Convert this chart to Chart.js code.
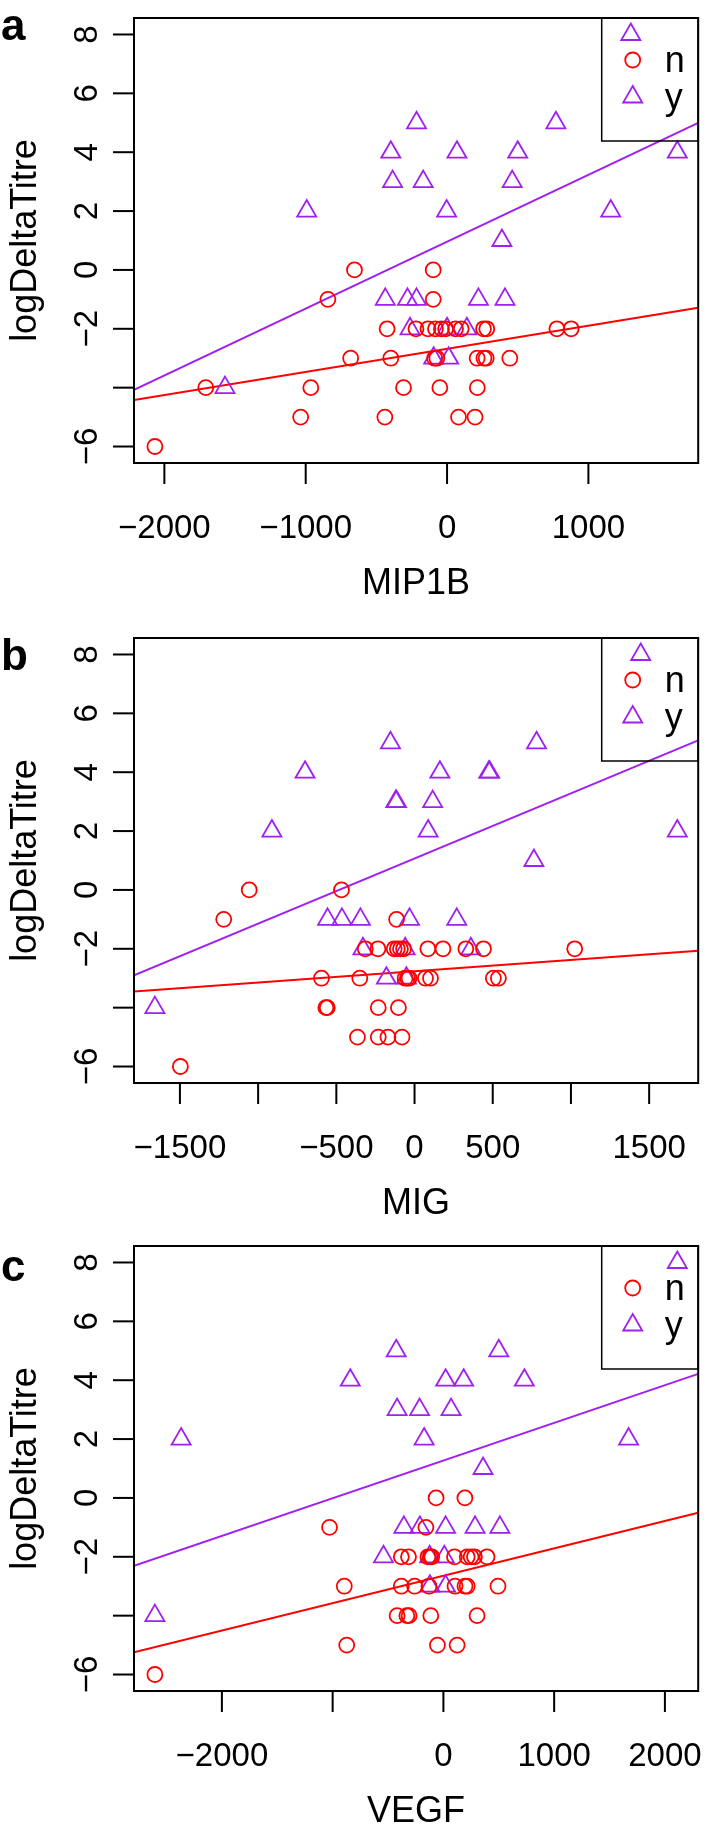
<!DOCTYPE html>
<html>
<head>
<meta charset="utf-8">
<script src="https://cdn.jsdelivr.net/npm/chart.js@4.4.1/dist/chart.umd.min.js"></script>
<style>
  html, body { margin: 0; padding: 0; background: #fff; }
  body { width: 711px; height: 1832px; position: relative; overflow: hidden; }
  .panel { position: absolute; left: 0; width: 711px; }
  canvas { display: block; }
</style>
</head>
<body>
<div class="panel" style="top:0px;height:620px"><canvas id="chartA" width="711" height="620"></canvas></div>
<div class="panel" style="top:620px;height:608px"><canvas id="chartB" width="711" height="608"></canvas></div>
<div class="panel" style="top:1228px;height:604px"><canvas id="chartC" width="711" height="604"></canvas></div>
<script>
const RED = '#FF0000';
const PURPLE = '#A020F0';
const FONT = '"Liberation Sans", Arial, Helvetica, sans-serif';

// logDeltaTitre axis, same on every panel
const yTicks = [-6, -4, -2, 0, 2, 4, 6, 8];
const yTickLabels = ['\u22126', '', '\u22122', '0', '2', '4', '6', '8'];

// panel a : MIP1B
const mipN_x = [-655, -98, -843, -98,
  -424, -220, -135, -82, -40, -10, 60, 100, 258, 281, 777, 878,
  -682, -398, -88, -72, 213, 261, 277, 444,
  -1707, -964, -308, -51, 214,
  -1036, -440, 81, 198,
  -2067];
const mipN_y = [0, 0, -1, -1,
  -2, -2, -2, -2, -2, -2, -2, -2, -2, -2, -2, -2,
  -3, -3, -3, -3, -3, -3, -3, -3,
  -4, -4, -4, -4, -4,
  -5, -5, -5, -5,
  -6];
const mipY_x = [1300, -216, 770, -398, 70, 500, 1629, -385, -169, 461, -993, -3, 1158, 388,
  -437, -280, -216, 222, 410, -262, 0, 140, -95, 12, -1571];
const mipY_y = [8, 5, 5, 4, 4, 4, 4, 3, 3, 3, 2, 2, 2, 1,
  -1, -1, -1, -1, -1, -2, -2, -2, -3, -3, -4];
const mipFitN = [-2.68, 0.000784];   // intercept, slope
const mipFitY = [0.96, 0.002273];
const mipTicks = [-2000, -1000, 0, 1000];
const mipTickLabels = ['\u22122000', '\u22121000', '0', '1000'];

// panel b : MIG
const migN_x = [-1057, -467, -1220, -115,
  -315, -234, -130, -110, -90, -70, 85, 182, 328, 441, 1024,
  -595, -350, -60, -45, -35, 70, 102, 504, 536,
  -567, -558, -232, -103,
  -365, -232, -170, -80,
  -1497];
const migN_y = [0, 0, -1, -1,
  -2, -2, -2, -2, -2, -2, -2, -2, -2, -2, -2,
  -3, -3, -3, -3, -3, -3, -3, -3, -3,
  -4, -4, -4, -4,
  -5, -5, -5, -5,
  -6];
const migY_x = [1446, -154, 780, -700, 162, 475, 480, -120, -115, 116, -912, 87, 1680, 763,
  -556, -464, -346, -32, 270, -330, -60, 360, -180, -52, -1660];
const migY_y = [8, 5, 5, 4, 4, 4, 4, 3, 3, 3, 2, 2, 2, 1,
  -1, -1, -1, -1, -1, -2, -2, -2, -3, -3, -4];
const migFitN = [-2.76, 0.000383];
const migFitY = [1.07, 0.002213];
const migTicks = [-1500, -1000, -500, 0, 500, 1000, 1500];
const migTickLabels = ['\u22121500', '', '\u2212500', '0', '500', '', '1500'];

// panel c : VEGF
const vegfN_x = [-66, 194, -1028, -158,
  -380, -315, -140, -120, -105, 100, 215, 250, 280, 394,
  -895, -380, -260, -130, 105, 195, 215, 493,
  -418, -330, -310, -114, 304,
  -873, -54, 124,
  -2605];
const vegfN_y = [0, 0, -1, -1,
  -2, -2, -2, -2, -2, -2, -2, -2, -2, -2,
  -3, -3, -3, -3, -3, -3, -3, -3,
  -4, -4, -4, -4, -4,
  -5, -5, -5,
  -6];
const vegfY_x = [2112, -426, 500, -841, 20, 183, 731, -418, -215, 69, -2368, -174, 1672, 358,
  -357, -212, 20, 286, 510, -541, -124, 8, -122, 20, -2605];
const vegfY_y = [8, 5, 5, 4, 4, 4, 4, 3, 3, 3, 2, 2, 2, 1,
  -1, -1, -1, -1, -1, -2, -2, -2, -3, -3, -4];
const vegfFitN = [-2.645, 0.000931];
const vegfFitY = [1.27, 0.00128];
const vegfTicks = [-2000, -1000, 0, 1000, 2000];
const vegfTickLabels = ['\u22122000', '', '0', '1000', '2000'];

function toPoints(xs, ys) {
  return xs.map((x, i) => ({ x: x, y: ys[i] }));
}

// R style axis range: data range stretched by 4% on each side
function rRange(values) {
  const lo = Math.min(...values), hi = Math.max(...values);
  const pad = (hi - lo) * 0.04;
  return [lo - pad, hi + pad];
}

function fitLine(fit, range) {
  return range.map(x => ({ x: x, y: fit[0] + fit[1] * x }));
}

function drawSymbol(ctx, style, radius, x, y) {
  if (Chart.helpers && Chart.helpers.drawPoint) {
    Chart.helpers.drawPoint(ctx, { pointStyle: style, radius: radius, rotation: 0, borderWidth: ctx.lineWidth }, x, y);
    return;
  }
  ctx.beginPath();
  if (style === 'circle') {
    ctx.arc(x, y, radius, 0, Math.PI * 2);
  } else {
    for (let k = 0; k < 3; k++) {
      const a = k * 2 * Math.PI / 3;
      ctx.lineTo(x + Math.sin(a) * radius, y - Math.cos(a) * radius);
    }
    ctx.closePath();
  }
  ctx.stroke();
}

// box, axes, labels and legend drawn the way base R does it
const rBasePlot = {
  id: 'rBasePlot',
  afterDatasetsDraw(chart, args, opts) {
    const { ctx, chartArea: area } = chart;
    const xs = chart.scales.x, ys = chart.scales.y;
    ctx.save();
    ctx.strokeStyle = '#000';
    ctx.fillStyle = '#000';
    ctx.lineWidth = 2;
    ctx.strokeRect(area.left, area.top, area.right - area.left, area.bottom - area.top);

    // x axis
    ctx.font = '33px ' + FONT;
    ctx.textAlign = 'center';
    ctx.textBaseline = 'alphabetic';
    opts.xTicks.forEach((v, i) => {
      const px = xs.getPixelForValue(v);
      ctx.beginPath();
      ctx.moveTo(px, area.bottom);
      ctx.lineTo(px, area.bottom + 21);
      ctx.stroke();
      if (opts.xLabels[i]) ctx.fillText(opts.xLabels[i], px, area.bottom + 75);
    });

    // y axis, labels parallel to the axis
    yTicks.forEach((v, i) => {
      const py = ys.getPixelForValue(v);
      ctx.beginPath();
      ctx.moveTo(area.left, py);
      ctx.lineTo(area.left - 21, py);
      ctx.stroke();
      if (yTickLabels[i]) {
        ctx.save();
        ctx.translate(area.left - 37, py);
        ctx.rotate(-Math.PI / 2);
        ctx.fillText(yTickLabels[i], 0, 0);
        ctx.restore();
      }
    });

    // axis titles
    ctx.font = '36px ' + FONT;
    ctx.fillText(opts.xTitle, (area.left + area.right) / 2, area.bottom + 131);
    ctx.save();
    ctx.translate(area.left - 98.5, (area.top + area.bottom) / 2);
    ctx.rotate(-Math.PI / 2);
    ctx.fillText('logDeltaTitre', 0, 0);
    ctx.restore();

    // panel letter
    ctx.font = 'bold 44px ' + FONT;
    ctx.textAlign = 'left';
    ctx.fillText(opts.letter, 1, opts.letterY);

    // legend, top right, transparent background
    const lw = 96.5, lh = 123;
    const lx = area.right - lw, ly = area.top;
    ctx.lineWidth = 1.5;
    ctx.strokeRect(lx, ly, lw, lh);
    const entries = chart.data.datasets.filter(d => d.inLegend);
    entries.forEach((d, i) => {
      const rowY = ly + 42 + i * 37;
      ctx.strokeStyle = d.borderColor;
      ctx.fillStyle = 'rgba(0,0,0,0)';
      ctx.lineWidth = 1.8;
      drawSymbol(ctx, d.pointStyle, d.pointRadius, lx + 31, rowY);
      ctx.fillStyle = '#000';
      ctx.font = '36px ' + FONT;
      ctx.fillText(d.label, lx + 63, rowY + 12);
    });
    ctx.restore();
  }
};

function makePanel(id, p) {
  const canvas = document.getElementById(id);
  const h = canvas.height;
  const xRange = rRange(p.nx.concat(p.yx));
  const yRange = rRange(p.ny.concat(p.yy));
  return new Chart(canvas, {
    type: 'scatter',
    data: {
      datasets: [
        { label: 'n', inLegend: true, data: toPoints(p.nx, p.ny), pointStyle: 'circle', pointRadius: 7.5,
          borderColor: RED, backgroundColor: 'rgba(0,0,0,0)', pointBorderWidth: 1.8 },
        { label: 'y', inLegend: true, data: toPoints(p.yx, p.yy), pointStyle: 'triangle', pointRadius: 11,
          borderColor: PURPLE, backgroundColor: 'rgba(0,0,0,0)', pointBorderWidth: 1.8 },
        { label: 'fit n', data: fitLine(p.fitN, xRange), showLine: true, pointRadius: 0,
          borderColor: RED, borderWidth: 2, tension: 0 },
        { label: 'fit y', data: fitLine(p.fitY, xRange), showLine: true, pointRadius: 0,
          borderColor: PURPLE, borderWidth: 2, tension: 0 }
      ]
    },
    options: {
      responsive: false,
      maintainAspectRatio: false,
      devicePixelRatio: 1,
      animation: false,
      events: [],
      layout: { padding: { left: 134, right: 8, top: 18, bottom: h - 463 } },
      scales: {
        x: { type: 'linear', display: false, min: xRange[0], max: xRange[1] },
        y: { type: 'linear', display: false, min: yRange[0], max: yRange[1] }
      },
      plugins: {
        legend: { display: false },
        tooltip: { enabled: false },
        rBasePlot: { letter: p.letter, letterY: p.letterY, xTitle: p.xTitle, xTicks: p.ticks, xLabels: p.tickLabels }
      }
    },
    plugins: [rBasePlot]
  });
}

makePanel('chartA', { letter: 'a', letterY: 40, xTitle: 'MIP1B', nx: mipN_x, ny: mipN_y, yx: mipY_x, yy: mipY_y,
  fitN: mipFitN, fitY: mipFitY, ticks: mipTicks, tickLabels: mipTickLabels });
makePanel('chartB', { letter: 'b', letterY: 50, xTitle: 'MIG', nx: migN_x, ny: migN_y, yx: migY_x, yy: migY_y,
  fitN: migFitN, fitY: migFitY, ticks: migTicks, tickLabels: migTickLabels });
makePanel('chartC', { letter: 'c', letterY: 53, xTitle: 'VEGF', nx: vegfN_x, ny: vegfN_y, yx: vegfY_x, yy: vegfY_y,
  fitN: vegfFitN, fitY: vegfFitY, ticks: vegfTicks, tickLabels: vegfTickLabels });
</script>
</body>
</html>
